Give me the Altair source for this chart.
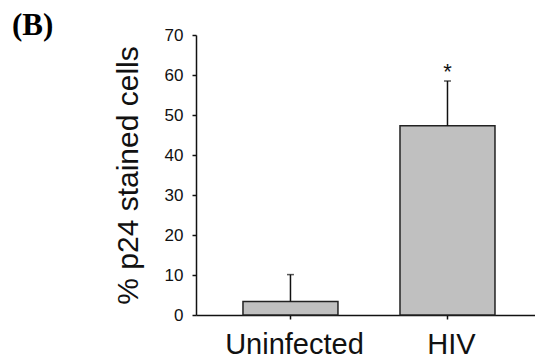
import altair as alt
import pandas as pd

# Percentage of p24-stained cells, mean with upper error bar
groups = ["Uninfected", "HIV"]
means = [3.4, 47.3]
errors = [6.7, 11.2]
significance = ["", "*"]
panel_tag = "(B)"
y_ticks = [0, 10, 20, 30, 40, 50, 60, 70]

df = pd.DataFrame({
    "group": groups,
    "mean": means,
    "upper": [m + e for m, e in zip(means, errors)],
    "sig": significance,
})

SANS = "Liberation Sans"
INK = "#111111"

x_scale = alt.Scale(paddingInner=0.395, paddingOuter=0.277, align=0.54)
y_scale = alt.Scale(domain=[0, 70], nice=False)

x_axis = alt.Axis(
    title=None,
    labelAngle=0,
    labelFont=SANS,
    labelFontSize=29,
    labelColor=INK,
    labelPadding=11,
    labelOffset=4,
    tickSize=4,
    tickColor=INK,
    tickWidth=1.5,
    domainColor=INK,
    domainWidth=1.5,
)

y_axis = alt.Axis(
    values=y_ticks,
    labelOverlap=False,
    grid=False,
    title="% p24 stained cells",
    titleFont=SANS,
    titleFontSize=30,
    titleFontWeight="normal",
    titleColor=INK,
    titleAngle=-90,
    titleAlign="center",
    titleBaseline="alphabetic",
    titleX=-59,
    titleY=140,
    labelFont=SANS,
    labelFontSize=17,
    labelColor=INK,
    labelPadding=9,
    tickSize=4,
    tickColor=INK,
    tickWidth=1.5,
    domainColor=INK,
    domainWidth=1.5,
)

x_enc = alt.X("group:N", sort=groups, scale=x_scale, axis=x_axis)

bars = alt.Chart(df).mark_bar(
    fill="#c0c0c0", stroke="#222222", strokeWidth=1.5
).encode(
    x=x_enc,
    y=alt.Y("mean:Q", scale=y_scale, axis=y_axis),
)

err_line = alt.Chart(df).mark_rule(color=INK, strokeWidth=1.5).encode(
    x=x_enc,
    y=alt.Y("mean:Q", scale=y_scale, axis=y_axis),
    y2="upper:Q",
)

err_cap = alt.Chart(df).mark_tick(
    orient="horizontal", size=7, thickness=1.5, color=INK
).encode(
    x=x_enc,
    y=alt.Y("upper:Q", scale=y_scale, axis=y_axis),
)

stars = alt.Chart(df).mark_text(
    font=SANS, fontSize=22, color=INK, baseline="alphabetic", dy=-2
).encode(
    x=x_enc,
    y=alt.Y("upper:Q", scale=y_scale, axis=y_axis),
    text="sig:N",
)

tag = alt.Chart(pd.DataFrame({"t": [panel_tag]})).mark_text(
    font="Liberation Serif", fontSize=31, fontWeight="bold", color="#000000",
    align="left", baseline="alphabetic",
).encode(
    x=alt.value(-184),
    y=alt.value(0),
    text="t:N",
)

chart = alt.layer(bars, err_line, err_cap, stars, tag).properties(
    width=339,
    height=280,
    autosize=alt.AutoSizeParams(type="none"),
    padding={"left": 196, "top": 35, "right": 0, "bottom": 46},
).configure(background="white").configure_view(stroke=None)

chart.save("out.html", embed_options={"renderer": "svg", "actions": False})
